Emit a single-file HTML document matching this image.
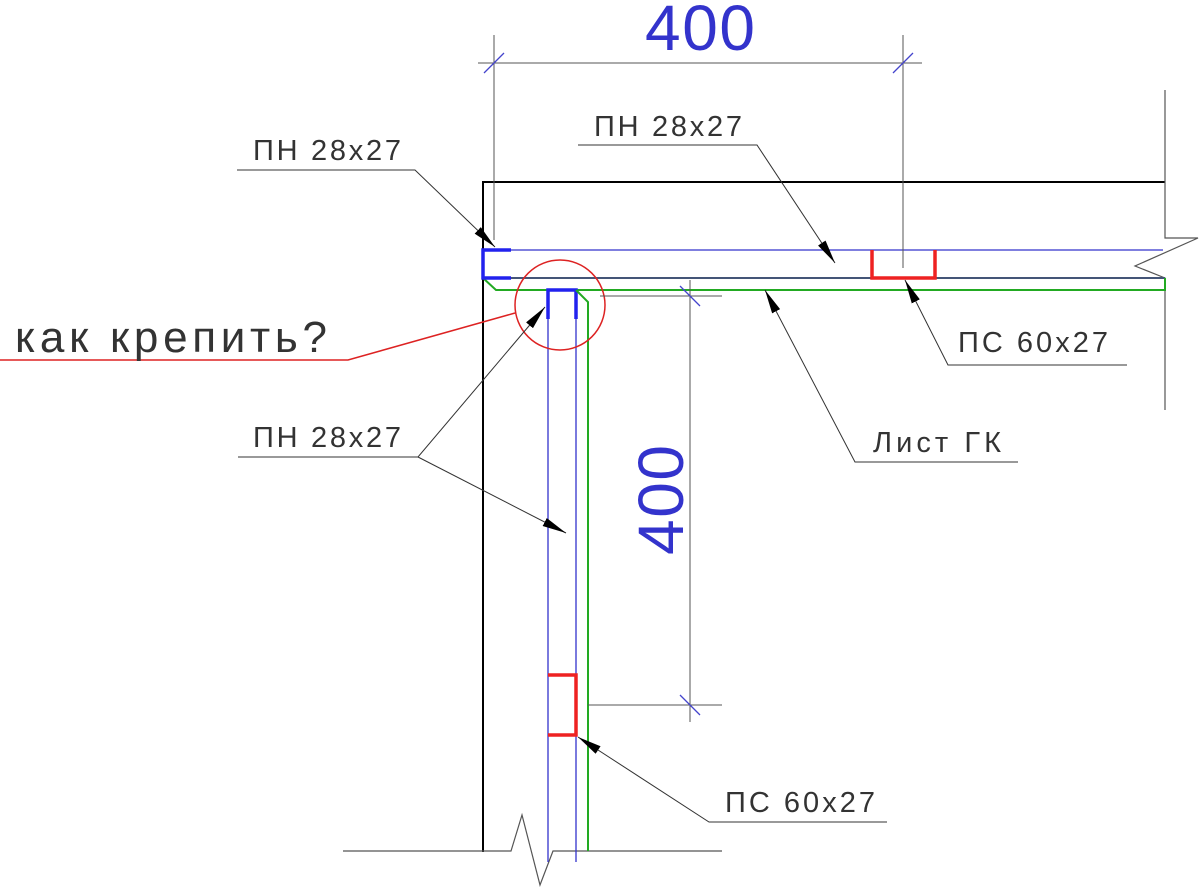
<!DOCTYPE html>
<html><head><meta charset="utf-8"><style>
html,body{margin:0;padding:0;background:#fff}
svg{display:block}
text{font-family:"Liberation Sans Narrow","Liberation Sans",sans-serif;}
</style></head><body>
<svg width="1200" height="887" viewBox="0 0 1200 887" xmlns="http://www.w3.org/2000/svg">
<defs>
<marker id="ar" viewBox="0 0 24 9" refX="24" refY="4.5" markerWidth="24" markerHeight="9" markerUnits="userSpaceOnUse" orient="auto"><path d="M0,0 L24,4.5 L0,9 z" fill="#000"/></marker>
</defs>
<g fill="none">
<path d="M483,852 V182 H1165" stroke="#000" stroke-width="2"/>
<path d="M1165,90 V238 L1198,238 L1135,266 L1165,278 V410" stroke="#555" stroke-width="1.2"/>
<path d="M343,851 H511 L522,815 L540,885 L553,851 H722" stroke="#555" stroke-width="1.2"/>
<path d="M483,250 H1163" stroke="#33c" stroke-width="1.2"/>
<path d="M483,278 H1165" stroke="#457" stroke-width="2"/>
<path d="M483,278 L496,290 H1165 V278" stroke="#2a2" stroke-width="2"/>
<path d="M511,250 H483 V278 H511" stroke="#22e" stroke-width="3.5"/>
<path d="M872,250 V278 H935 V250" stroke="#e22" stroke-width="3.5"/>
<path d="M548,290 V862 M576,290 V862" stroke="#33c" stroke-width="1.3"/>
<path d="M548,319 V290 H576 V319" stroke="#22e" stroke-width="3.5"/>
<path d="M576,290 L588,302 V851" stroke="#2a2" stroke-width="2"/>
<path d="M548,675 H576 V735 H548" stroke="#e22" stroke-width="3.5"/>
<circle cx="560" cy="305" r="45" stroke="#d22" stroke-width="1.5"/>
<path d="M0,360 H348 L515,313" stroke="#d22" stroke-width="1.5"/>
<path d="M494,35 V240 M903,35 V268 M478,63 H922" stroke="#555" stroke-width="1"/>
<path d="M484,73 L504,53 M893,73 L913,53" stroke="#44c" stroke-width="1.3"/>
<path d="M690,280 V722 M600,296 H722 M588,705 H722" stroke="#555" stroke-width="1"/>
<path d="M680,286 L700,306 M680,695 L700,715" stroke="#44c" stroke-width="1.3"/>
<g stroke="#333" stroke-width="1">
<path d="M237,170 H415 L495,247" marker-end="url(#ar)"/>
<path d="M578,145 H757 L835,263" marker-end="url(#ar)"/>
<path d="M1127,365 H948 L905,280" marker-end="url(#ar)"/>
<path d="M1018,462 H855 L765,290" marker-end="url(#ar)"/>
<path d="M238,457 H418 L545,307" marker-end="url(#ar)"/>
<path d="M418,457 L566,533" marker-end="url(#ar)"/>
<path d="M887,822 H709 L578,737" marker-end="url(#ar)"/>
</g>
</g>
<g fill="#333" font-size="29">
<text x="253" y="160" textLength="148">ПН 28x27</text>
<text x="594" y="136" textLength="148">ПН 28x27</text>
<text x="958" y="352" textLength="150">ПС 60x27</text>
<text x="873" y="452" textLength="128">Лист ГК</text>
<text x="253" y="447" textLength="148">ПН 28x27</text>
<text x="725" y="812" textLength="150">ПС 60x27</text>
<text x="15" y="352" font-size="44" textLength="312">как крепить?</text>
</g>
<g fill="#33c" font-size="64">
<text x="645" y="50" textLength="110">400</text>
<text transform="translate(683,555) rotate(-90)" textLength="110">400</text>
</g>
</svg>
</body></html>
